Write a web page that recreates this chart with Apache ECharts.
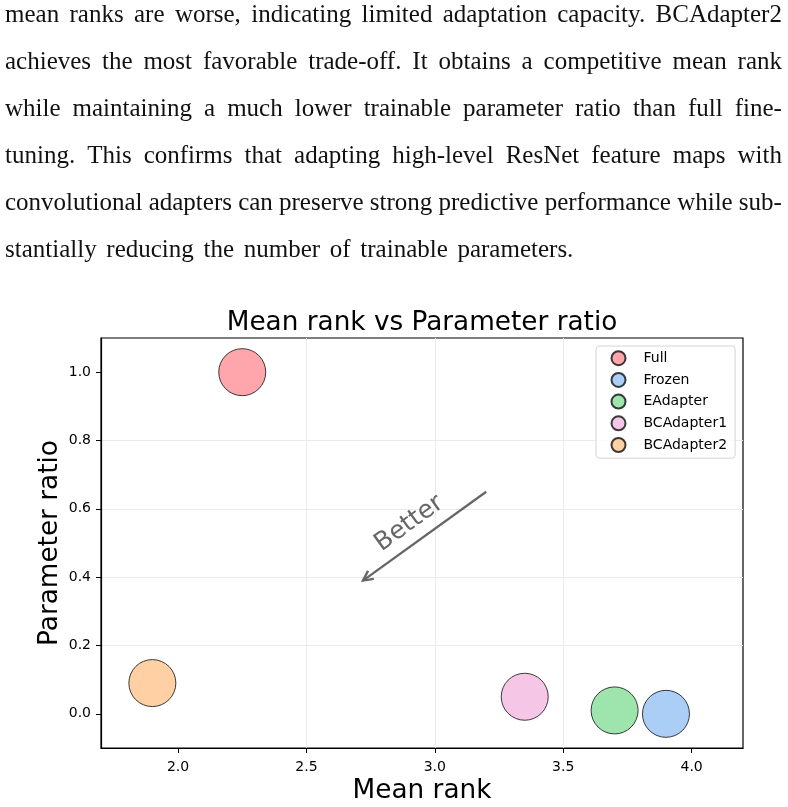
<!DOCTYPE html>
<html>
<head>
<meta charset="utf-8">
<script src="https://cdn.jsdelivr.net/npm/echarts@6/dist/echarts.min.js"></script>
<style>
html, body { margin: 0; padding: 0; background: #fff; }
#wrap { position: relative; width: 788px; height: 807px; overflow: hidden; }
#chart { position: absolute; left: 0; top: 0; width: 788px; height: 807px; }
.pline { position: absolute; left: 5px; width: 777px; height: 25px; display: flex;
  font-family: "Liberation Serif", serif; font-size: 25px; line-height: 25px; color: #111;
  letter-spacing: 0px; white-space: nowrap; z-index: 5; }
.pline.just { justify-content: space-between; }
.pline.last { justify-content: flex-start; gap: 9.7px; }
</style>
</head>
<body>
<div id="wrap">
  <div id="chart"></div>
</div>
<script>
// ---- paragraph text (line breaks as in the reference) ----
const paragraphLines = [
  "mean ranks are worse, indicating limited adaptation capacity. BCAdapter2",
  "achieves the most favorable trade-off.  It obtains a competitive mean rank",
  "while maintaining a much lower trainable parameter ratio than full fine-",
  "tuning.  This confirms that adapting high-level ResNet feature maps with",
  "convolutional adapters can preserve strong predictive performance while sub-",
  "stantially reducing the number of trainable parameters."
];

// ---- chart data ----
const methods = ['Full', 'Frozen', 'EAdapter', 'BCAdapter1', 'BCAdapter2'];
const meanRank = [2.25, 3.90, 3.70, 3.35, 1.90];
const paramRatio = [1.00, 0.00, 0.01, 0.05, 0.09];
const colors = ['#FF979F', '#9BC6F3', '#8CE09F', '#F3BCE2', '#FFC893'];
const xTicks = [2.0, 2.5, 3.0, 3.5, 4.0];
const yTicks = [0.0, 0.2, 0.4, 0.6, 0.8, 1.0];
const arrowFrom = [3.20, 0.65];
const arrowTo = [2.72, 0.39];
const betterLabel = ['Better'];
const betterPos = [2.90, 0.557];

// build paragraph
const wrap = document.getElementById('wrap');
paragraphLines.forEach((line, k) => {
  const div = document.createElement('div');
  const isLast = k === paragraphLines.length - 1;
  div.className = 'pline ' + (isLast ? 'last' : 'just');
  div.style.top = (1 + 47 * k) + 'px';
  line.split(/\s+/).forEach(w => {
    const s = document.createElement('span');
    s.textContent = w;
    div.appendChild(s);
  });
  wrap.appendChild(div);
});

const chart = echarts.init(document.getElementById('chart'), null, { renderer: 'canvas' });

const scatterSeries = methods.map((m, i) => ({
  name: m,
  type: 'scatter',
  data: [[meanRank[i], paramRatio[i]]],
  symbol: 'circle',
  symbolSize: 47,
  itemStyle: { color: colors[i], opacity: 0.85, borderColor: '#1a1a1a', borderWidth: 1 },
  emphasis: { disabled: true },
  z: 3
}));

const arrowSeries = {
  type: 'custom',
  silent: true,
  clip: false,
  z: 4,
  data: [[arrowFrom[0], arrowFrom[1], arrowTo[0], arrowTo[1]]],
  renderItem: function (params, api) {
    const p0 = api.coord([api.value(0), api.value(1)]);
    const p1 = api.coord([api.value(2), api.value(3)]);
    const dx = p1[0] - p0[0], dy = p1[1] - p0[1];
    const len = Math.hypot(dx, dy);
    const bx = -dx / len, by = -dy / len;
    const hl = 11, ang = 0.46;
    const arm = (a) => [p1[0] + hl * (bx * Math.cos(a) - by * Math.sin(a)),
                        p1[1] + hl * (bx * Math.sin(a) + by * Math.cos(a))];
    const st = { stroke: '#666666', lineWidth: 2.3, fill: null, lineCap: 'butt' };
    return {
      type: 'group',
      children: [
        { type: 'line', shape: { x1: p0[0], y1: p0[1], x2: p1[0], y2: p1[1] }, style: st },
        { type: 'polyline', shape: { points: [arm(ang), p1, arm(-ang)] }, style: st }
      ]
    };
  }
};

const textSeries = {
  type: 'custom',
  silent: true,
  clip: false,
  z: 4,
  data: [[betterPos[0], betterPos[1]]],
  renderItem: function (params, api) {
    const p = api.coord([api.value(0), api.value(1)]);
    return {
      type: 'text',
      x: p[0], y: p[1],
      rotation: 36 * Math.PI / 180,
      style: {
        text: betterLabel[0],
        fill: '#666666',
        font: '25px "DejaVu Sans"',
        align: 'center',
        verticalAlign: 'middle'
      }
    };
  }
};

const option = {
  animation: false,
  textStyle: { fontFamily: 'DejaVu Sans' },
  title: {
    text: 'Mean rank vs Parameter ratio',
    left: 422,
    top: 310,
    textAlign: 'center',
    padding: 0,
    textStyle: { fontSize: 26.3, fontWeight: 'normal', color: '#000', fontFamily: 'DejaVu Sans' }
  },
  grid: {
    left: 101, right: 45, top: 338, bottom: 59,
    outerBoundsMode: 'none',
    containLabel: false,
    show: true, borderColor: '#000', borderWidth: 1.2, backgroundColor: 'transparent'
  },
  legend: {
    data: methods,
    orient: 'vertical',
    left: 596,
    top: 346,
    icon: 'circle',
    itemWidth: 14,
    itemHeight: 14,
    itemGap: 5.7,
    padding: [4.2, 8, 5.2, 14.5],
    backgroundColor: 'rgba(255,255,255,0.8)',
    borderColor: '#d5d5d5',
    borderWidth: 1,
    borderRadius: 3,
    selectedMode: false,
    textStyle: { fontSize: 14, color: '#000', fontFamily: 'DejaVu Sans', padding: [0, 0, 0, 13] }
  },
  xAxis: {
    type: 'value',
    min: 1.7, max: 4.2,
    splitNumber: 5,
    name: 'Mean rank',
    nameLocation: 'middle',
    nameGap: 30,
    nameMoveOverlap: false,
    nameTextStyle: { fontSize: 26.3, color: '#000', fontFamily: 'DejaVu Sans' },
    axisLine: { show: true, onZero: false, lineStyle: { color: '#000', width: 1.2 } },
    axisTick: { show: true, length: 5, customValues: xTicks, lineStyle: { color: '#000', width: 1 } },
    axisLabel: { customValues: xTicks, formatter: v => Number(v).toFixed(1), fontSize: 14, color: '#000', margin: 12.5, fontFamily: 'DejaVu Sans' },
    splitLine: { show: true, showMinLine: false, showMaxLine: false, lineStyle: { color: '#ebebeb', width: 1 } }
  },
  yAxis: {
    type: 'value',
    min: -0.1, max: 1.1,
    splitNumber: 5,
    name: 'Parameter ratio',
    nameLocation: 'middle',
    nameGap: 38,
    nameMoveOverlap: false,
    nameTextStyle: { fontSize: 26.3, color: '#000', fontFamily: 'DejaVu Sans' },
    axisLine: { show: true, onZero: false, lineStyle: { color: '#000', width: 1.2 } },
    axisTick: { show: true, length: 5, customValues: yTicks, lineStyle: { color: '#000', width: 1 } },
    axisLabel: { customValues: yTicks, formatter: v => Number(v).toFixed(1), fontSize: 14, color: '#000', margin: 10, fontFamily: 'DejaVu Sans' },
    splitLine: { show: true, showMinLine: false, showMaxLine: false, lineStyle: { color: '#ebebeb', width: 1 } }
  },
  series: scatterSeries.concat([arrowSeries, textSeries])
};

chart.setOption(option);
</script>
</body>
</html>
